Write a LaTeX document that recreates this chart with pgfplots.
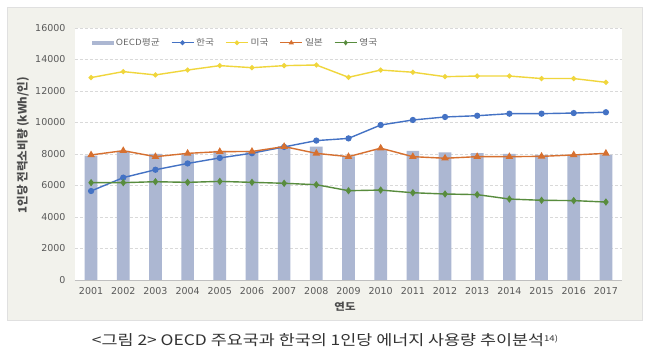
\documentclass[border=0pt]{standalone}
\usepackage{pgfplots}
\pgfplotsset{compat=1.18}
\usepackage{fontspec}
\setmainfont{DejaVu Sans}
\newfontfamily\kr{Noto Sans CJK KR}
\definecolor{framebg}{RGB}{242,242,236}
\definecolor{barc}{RGB}{172,183,210}
\definecolor{kor}{RGB}{68,114,196}
\definecolor{usa}{RGB}{240,214,60}
\definecolor{jpn}{RGB}{214,112,48}
\definecolor{ukc}{RGB}{88,140,62}
\definecolor{tickc}{RGB}{89,89,89}
\newcommand{\legtxt}[1]{\scalebox{1.15}[1]{#1}}
\begin{document}
\begin{tikzpicture}[x=1pt,y=1pt]
\fill[white] (0,0) rectangle (649,363);
\fill[framebg] (7,43) rectangle (642,356);
\draw[black!12] (7,43) rectangle (642,356);
\begin{axis}[
  at={(75pt,83pt)}, anchor=south west,
  scale only axis, width=547pt, height=252pt,
  xmin=2000.5, xmax=2017.5, ymin=0, ymax=16000,
  xtick=data, ytick={0,2000,...,16000},
  scaled y ticks=false,
  /pgf/number format/1000 sep={},
  /pgf/number format/assume math mode=true,
  ticklabel style={font=\fontsize{9.5}{10}\selectfont, text=tickc},
  yticklabel style={xshift=-6pt},
  xticklabel style={yshift=-4pt},
  major tick length=0pt,
  axis background/.style={fill=white},
  axis x line*=bottom, axis y line*=left,
  x axis line style={draw=black!25, -},
  y axis line style={draw=none},
  ymajorgrids, grid style={densely dashed, draw=black!15},
  legend style={at={(axis description cs:0.025,0.975)}, anchor=north west, draw=none, fill=none,
    font=\kr\fontsize{8.5}{10}\selectfont, text=black!60},
  legend columns=-1,
  legend cell align=left,
  /tikz/every even column/.append style={column sep=9pt},
  legend image code/.code={\draw[mark repeat=2,mark phase=2,mark size=1.6pt] plot coordinates {(0pt,0pt) (11pt,0pt) (22pt,0pt)};},
]
\addplot[ybar, bar width=12.7pt, fill=barc, draw=none, bar shift=0pt,
  legend image code/.code={\fill[barc] (0pt,-1.8pt) rectangle (22pt,1.8pt);}]
  coordinates {(2001,7900) (2002,8200) (2003,8000) (2004,8000) (2005,8200) (2006,8200) (2007,8500) (2008,8470) (2009,7850) (2010,8300) (2011,8200) (2012,8100) (2013,8050) (2014,8000) (2015,7950) (2016,7950) (2017,7950)};
\addlegendentry{\legtxt{OECD평균}}
\addplot[kor, line width=1.4pt, mark=*, mark size=2.4pt]
  coordinates {(2001,5650) (2002,6500) (2003,7000) (2004,7400) (2005,7750) (2006,8050) (2007,8450) (2008,8850) (2009,8990) (2010,9840) (2011,10160) (2012,10350) (2013,10430) (2014,10560) (2015,10560) (2016,10600) (2017,10650)};
\addlegendentry{\legtxt{한국}}
\addplot[usa, line width=1.4pt, mark=*, mark size=1.8pt]
  coordinates {(2001,12850) (2002,13230) (2003,13020) (2004,13330) (2005,13610) (2006,13480) (2007,13610) (2008,13650) (2009,12870) (2010,13330) (2011,13190) (2012,12910) (2013,12950) (2014,12950) (2015,12790) (2016,12790) (2017,12550)};
\addlegendentry{\legtxt{미국}}
\addplot[jpn, line width=1.4pt, mark=triangle*, mark size=3pt]
  coordinates {(2001,7940) (2002,8210) (2003,7830) (2004,8040) (2005,8150) (2006,8160) (2007,8470) (2008,8040) (2009,7830) (2010,8370) (2011,7830) (2012,7730) (2013,7830) (2014,7830) (2015,7850) (2016,7940) (2017,8040)};
\addlegendentry{\legtxt{일본}}
\addplot[ukc, line width=1.4pt, mark=diamond*, mark size=2.6pt]
  coordinates {(2001,6180) (2002,6180) (2003,6240) (2004,6200) (2005,6260) (2006,6200) (2007,6140) (2008,6050) (2009,5670) (2010,5710) (2011,5540) (2012,5460) (2013,5420) (2014,5140) (2015,5060) (2016,5040) (2017,4950)};
\addlegendentry{\legtxt{영국}}
\end{axis}
\node[rotate=90, text=black!70] at (23,218) {\kr\bfseries\fontsize{11.5}{13}\selectfont 1인당 전력소비량 (kWh/인)};
\node[text=black!70] at (345,56) {\kr\bfseries\fontsize{10}{12}\selectfont \scalebox{1.15}[1]{연도}};
\node[text=black!80] at (325,23) {\kr\fontsize{14.5}{16}\selectfont \scalebox{1.2}[1]{<그림 2> OECD 주요국과 한국의 1인당 에너지 사용량 추이분석\raisebox{0.45ex}{\fontsize{8}{9}\selectfont 14)}}};
\end{tikzpicture}
\end{document}
